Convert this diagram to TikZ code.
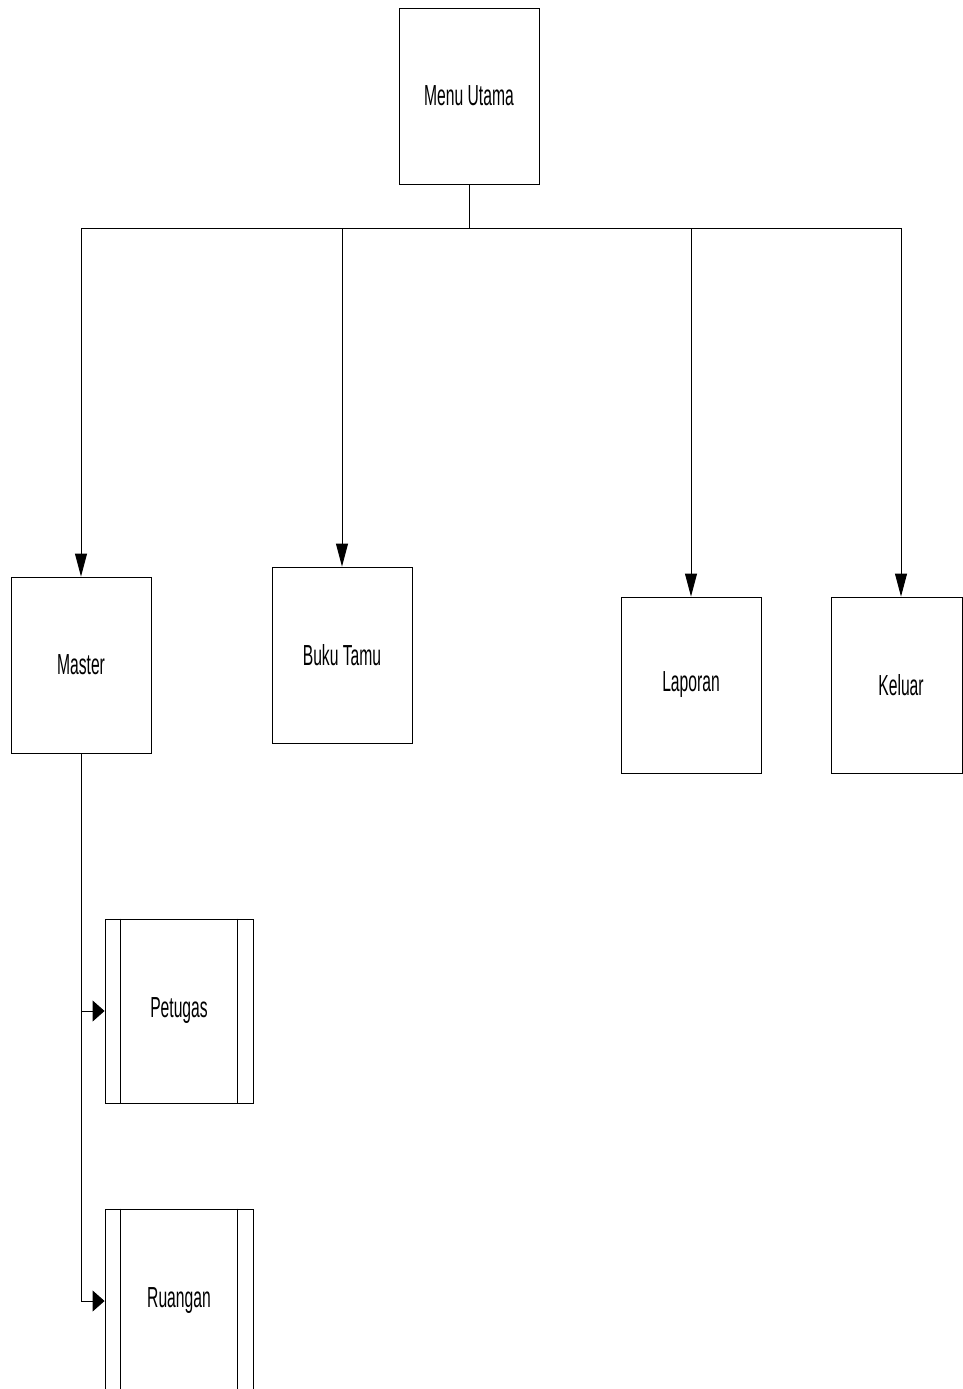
\documentclass[tikz,border=0pt]{standalone}
\usepackage{fontspec}
\setmainfont{Liberation Sans}[FakeStretch=0.54]
\usetikzlibrary{arrows.meta}
\tikzset{
  menu/.style={draw, line width=0.9pt, minimum width=140pt, minimum height=176pt,
    inner sep=0pt, font=\fontsize{29}{30}\selectfont},
  submenu/.style={menu, minimum width=148pt, minimum height=184pt},
  line/.style={line width=0.9pt},
  down/.style={line, -{Triangle[length=23pt,width=12pt]}},
  side/.style={line, -{Triangle[length=12pt,width=21pt]}}
}
\begin{document}
\begin{tikzpicture}[x=1pt, y=-1pt]
  \useasboundingbox (0,0) rectangle (963,1389);
  \clip (0,0) rectangle (963,1389);

  % kotak menu
  \node[menu] (utama) at (469,96) {Menu Utama};
  \node[menu] (master) at (81,665) {Master};
  \node[menu] (buku) at (342,655) {Buku Tamu};
  \node[menu] (laporan) at (691,685) {Laporan};
  \node[menu, minimum width=131pt] (keluar) at (896.5,685) {\hspace*{9pt}Keluar};
  \node[submenu] (petugas) at (179,1011) {Petugas};
  \node[submenu] (ruangan) at (179,1301) {Ruangan};

  % garis tepi dalam sub menu
  \foreach \n in {petugas, ruangan} {
    \draw[line] ([xshift=16pt]\n.north west) -- ([xshift=16pt]\n.south west);
    \draw[line] ([xshift=-16pt]\n.north east) -- ([xshift=-16pt]\n.south east);
  }

  % titik masuk panah
  \foreach \n/\s in {master/0, buku/0, laporan/0, keluar/4.5}
    \coordinate (\n-in) at ([xshift=\s pt]\n.north);

  % cabang dari menu utama
  \coordinate (bus) at (469,228);
  \draw[line] (utama.south) -- (bus);
  \draw[line] (bus -| master-in) -- (bus -| keluar-in);
  \foreach \n in {master, buku, laporan, keluar}
    \draw[down] (bus -| \n-in) -- (\n-in);

  % cabang dari master
  \draw[side] (master.south) |- (ruangan.west);
  \draw[side] (master.south |- petugas.west) -- (petugas.west);
\end{tikzpicture}
\end{document}
